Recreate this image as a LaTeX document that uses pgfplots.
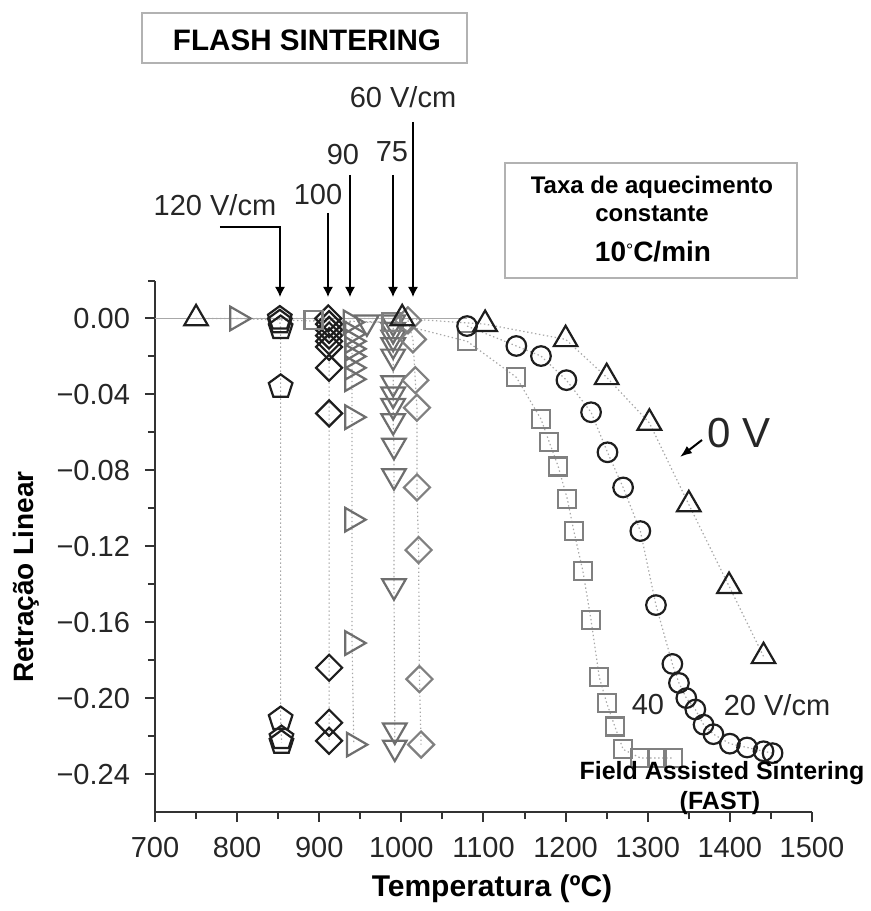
\documentclass[border=0pt]{standalone}
\usepackage{fontspec}
\setmainfont{Liberation Sans}
\usepackage{pgfplots}
\pgfplotsset{compat=1.18}
\usetikzlibrary{arrows.meta}
\definecolor{dk}{HTML}{1E1E1E}
\definecolor{md}{HTML}{6E6E6E}
\definecolor{lt}{HTML}{808080}
\definecolor{ln}{HTML}{A8A8A8}
\definecolor{ax}{HTML}{333333}
\tikzset{
  ser/.style={ln, line width=0.6pt, dash pattern=on 0.7pt off 1.3pt},
  mk/.style={solid, line width=1.1pt, fill=white, draw=#1},
}
\begin{document}
\begin{tikzpicture}
\begin{axis}[
  at={(0,0)}, anchor=south west,
  scale only axis, width=328.5pt, height=265.75pt,
  xmin=700, xmax=1500, ymin=-0.26, ymax=0.02,
  axis x line=bottom, axis y line=left,
  axis line style={-, ax, line width=1pt},
  tick align=outside,
  xtick={700,800,...,1500},
  minor xtick={750,850,...,1450},
  ytick={0,-0.04,-0.08,-0.12,-0.16,-0.20,-0.24},
  yticklabels={0.00,−0.04,−0.08,−0.12,−0.16,−0.20,−0.24},
  minor ytick={0.02,-0.02,-0.06,-0.10,-0.14,-0.18,-0.22},
  major tick length=5pt, minor tick length=3.5pt,
  every tick/.append style={ax, line width=1pt},
  tick label style={font=\fontsize{14.5}{17}\selectfont, text=black!85},
  xticklabel style={yshift=-4pt},
  yticklabel style={xshift=-4pt},
  /pgf/number format/assume math mode=true,
  /pgf/number format/1000 sep={},
  clip=false,
]
% baseline
\addplot[ln, line width=0.8pt] coordinates {(700,0) (1080,0)};
% 120 V/cm pentagons
\addplot[ser, mark=pentagon, mark size=6.2pt, mark options={mk=dk}] coordinates {
(852,0) (852,-0.002) (853,-0.005) (853,-0.036) (853,-0.211) (854,-0.221) (854,-0.2235)};
% 100 V/cm diamonds
\addplot[ser, mark=square, mark size=4.6pt, mark options={mk=dk, rotate=45}] coordinates {
(911,0) (912,-0.003) (912,-0.006) (912,-0.009) (912,-0.012) (912,-0.015) (912,-0.026) (912,-0.050) (912,-0.184) (912,-0.213) (912,-0.2225)};
% 90 V/cm right triangles
\addplot[ser, mark=triangle, mark size=6.8pt, mark options={mk=md, rotate=-90}] coordinates {
(800,0) (938,-0.002) (940,-0.008) (940,-0.012) (940,-0.016) (940,-0.020) (940,-0.026) (940,-0.032) (940,-0.052) (940,-0.106) (940,-0.171) (942,-0.2245)};
% 75 V/cm down triangles
\addplot[ser, mark=triangle, mark size=6.8pt, mark options={mk=md, rotate=180}] coordinates {
(958,-0.002) (990,-0.002) (990,-0.006) (990,-0.010) (990,-0.014) (990,-0.020) (990,-0.034) (990,-0.040) (990,-0.046) (990,-0.054) (991,-0.067) (991,-0.083) (991,-0.141) (992,-0.217) (992,-0.226)};
% 60 V/cm diamonds
\addplot[ser, mark=square, mark size=4.6pt, mark options={mk=lt, rotate=45}] coordinates {
(1008,-0.001) (1014,-0.011) (1017,-0.0325) (1019,-0.047) (1019,-0.089) (1021,-0.122) (1022,-0.190) (1024,-0.2245)};
% 40 V/cm squares
\addplot[ser, mark=square, mark size=4.5pt, mark options={mk=lt}] coordinates {
(893,-0.001) (988,-0.002) (1080,-0.012) (1140,-0.031) (1170,-0.053) (1180,-0.065) (1191,-0.078) (1202,-0.095) (1210,-0.112) (1221,-0.133) (1231,-0.159) (1241,-0.189) (1250,-0.2025) (1260,-0.215) (1270,-0.227) (1291,-0.2315) (1311,-0.2315) (1331,-0.2315)};
% 20 V/cm circles
\addplot[ser, mark=o, mark size=4.9pt, mark options={mk=dk}] coordinates {
(1080,-0.004) (1140,-0.0145) (1170,-0.0198) (1201,-0.0325) (1231,-0.0494) (1251,-0.0705) (1270,-0.089) (1291,-0.112) (1310,-0.151) (1330,-0.182) (1338,-0.192) (1347,-0.200) (1358,-0.206) (1368,-0.214) (1380,-0.219) (1400,-0.224) (1421,-0.226) (1441,-0.228) (1452,-0.229)};
% 0 V triangles
\addplot[ser, mark=triangle, mark size=6.8pt, mark options={mk=dk}] coordinates {
(750,0) (1001,0) (1102,-0.003) (1200,-0.011) (1250,-0.031) (1302,-0.055) (1350,-0.098) (1399,-0.141) (1441,-0.178)};
\end{axis}
\begin{scope}[x=0.5pt, y=-0.5pt, shift={(-77.5pt,406pt)}]
  % flash sintering box
  \draw[gray!60, line width=0.9pt] (142,13) rectangle (467,63);
  \node[font=\bfseries\fontsize{14.8}{17}\selectfont] at (307,40) {FLASH SINTERING};
  % heating rate box
  \draw[gray!60, line width=0.9pt] (505,163) rectangle (797,278);
  \node[font=\bfseries\fontsize{12}{14}\selectfont] at (652,187) {Taxa de aquecimento};
  \node[font=\bfseries\fontsize{12}{14}\selectfont] at (652,214) {constante};
  \node[font=\bfseries\fontsize{14}{16}\selectfont] at (653,252) {10\raisebox{0.35ex}{\fontsize{9}{10}\selectfont\mdseries°}C/min};
  % arrow labels
  \begin{scope}[every node/.style={font=\fontsize{14.5}{17}\selectfont, text=black!85}]
  \node at (215,205) {120 V/cm};
  \node at (318,195) {100};
  \node at (343,155) {90};
  \node at (392,152) {75};
  \node at (403,97) {60 V/cm};
  \node at (648,705) {40};
  \node at (777,705) {20 V/cm};
  \end{scope}
  \begin{scope}[line width=0.7pt, -{Latex[length=5pt,width=5pt]}]
  \draw (220,227) -- (280,227) -- (280,297);
  \draw (328,213) -- (328,297);
  \draw (350,175) -- (350,297);
  \draw (393,175) -- (393,297);
  \draw (413,122) -- (413,297);
  \end{scope}
  \node[font=\fontsize{21}{24}\selectfont, text=black!85] at (739,433) {0 V};
  \draw[line width=1pt, -{Latex[length=6pt,width=4.5pt]}] (702,440) -- (680,457);
  \node[font=\bfseries\fontsize{12.5}{15}\selectfont] at (722,773) {Field Assisted Sintering};
  \node[font=\bfseries\fontsize{12.5}{15}\selectfont] at (720,803) {(FAST)};
  % axis labels
  \node[font=\bfseries\fontsize{15}{18}\selectfont] at (492,889) {Temperatura (ºC)};
  \node[font=\bfseries\fontsize{14}{17}\selectfont, rotate=90] at (26,577) {Retração Linear};
  \pgfresetboundingbox
  \path[use as bounding box] (0,0) rectangle (871,911);
\end{scope}
\end{tikzpicture}
\end{document}
